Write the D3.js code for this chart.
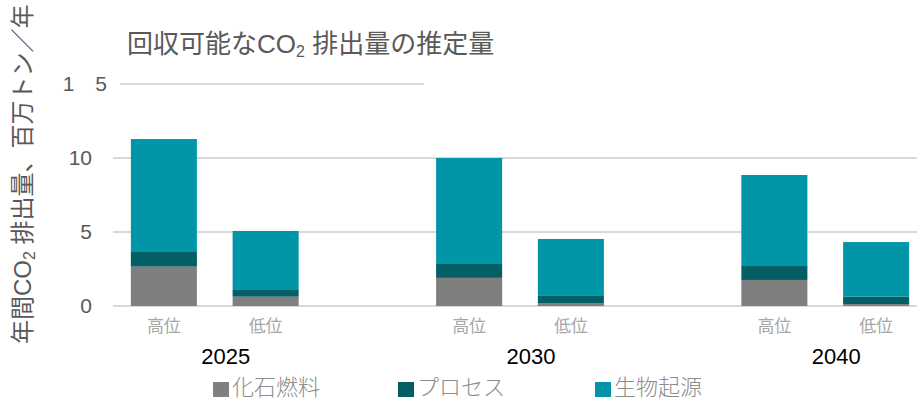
<!DOCTYPE html>
<html>
<head>
<meta charset="utf-8">
<script src="https://cdn.jsdelivr.net/npm/d3@7"></script>
<style>
  body { margin: 0; background: #fff; }
  svg { display: block; }
</style>
</head>
<body>
<div id="chart"></div>
<script>
const w = 917;
const h = 401;

// data (million t CO2 / year)
const years = ["2025", "2030", "2040"];
const scenarios = ["高位", "低位"];
const fossil  = [2.66, 0.63, 1.90, 0.20, 1.76, 0.13];
const process = [0.99, 0.45, 0.94, 0.48, 0.94, 0.50];
const bio     = [7.63, 3.99, 7.16, 3.85, 6.15, 3.69];
const seriesNames = ["化石燃料", "プロセス", "生物起源"];
const seriesColors = ["#7f7f7f", "#045e66", "#0096a8"];
const yTicks = [0, 5, 10, 15];
const yTickLabels = ["0", "5", "10", "1\u30005"];

// one row per bar, with an empty slot after each year
const rows = [];
years.forEach(function (yr, i) {
    scenarios.forEach(function (sc, j) {
        const k = i * 2 + j;
        rows.push({ key: yr + "|" + sc, year: yr, scen: sc,
            "化石燃料": fossil[k], "プロセス": process[k], "生物起源": bio[k] });
    });
});
const slots = [];
years.forEach(function (yr) {
    scenarios.forEach(function (sc) { slots.push(yr + "|" + sc); });
    slots.push(yr + "|gap");
});
slots.pop();

const x = d3.scaleBand().domain(slots).range([113, 927]).paddingInner(0.351).paddingOuter(0.1755);
const y = d3.scaleLinear().domain([0, 15]).range([306, 84]);

const svg = d3.select("#chart").append("svg").attr("width", w).attr("height", h);

// gridlines
svg.append("g").selectAll("line").data(yTicks).enter().append("line")
    .attr("x1", d => d === 15 ? 120 : 113)
    .attr("x2", d => d === 15 ? 424 : w)
    .attr("y1", d => y(d))
    .attr("y2", d => y(d))
    .attr("stroke", "#d9d9d9")
    .attr("stroke-width", 2);

// y axis labels
const yAxis = svg.append("g")
    .attr("transform", "translate(113,0)")
    .call(d3.axisLeft(y).tickValues(yTicks).tickSize(0).tickPadding(21)
        .tickFormat((d, i) => yTickLabels[i]));
yAxis.select(".domain").remove();
yAxis.selectAll("text")
    .style("font-family", "'Liberation Sans', Arial, sans-serif")
    .style("font-size", "21px")
    .attr("fill", "#595959")
    .attr("xml:space", "preserve");
yAxis.selectAll(".tick").filter(d => d === 15).select("text").attr("x", -6);

// stacked bars
const stack = d3.stack().keys(seriesNames);
const layers = stack(rows);
svg.append("g").selectAll("g").data(layers).enter().append("g")
    .attr("fill", (d, i) => seriesColors[i])
    .selectAll("rect").data(d => d).enter().append("rect")
    .attr("x", d => x(d.data.key))
    .attr("width", x.bandwidth())
    .attr("y", d => y(d[1]))
    .attr("height", d => y(d[0]) - y(d[1]));

// scenario labels
svg.append("g").selectAll("text").data(rows).enter().append("text")
    .attr("x", d => x(d.key) + x.bandwidth() / 2)
    .attr("y", 332)
    .attr("text-anchor", "middle")
    .style("font-family", "'Noto Sans CJK JP', sans-serif")
    .style("font-size", "17px")
    .attr("fill", "#a6a6a6")
    .text(d => d.scen);

// year labels
svg.append("g").selectAll("text").data(years).enter().append("text")
    .attr("x", d => (x(d + "|高位") + x(d + "|低位") + x.bandwidth()) / 2 + 11)
    .attr("y", 364)
    .attr("text-anchor", "middle")
    .style("font-family", "'Liberation Sans', Arial, sans-serif")
    .style("font-size", "22px")
    .attr("fill", "#000")
    .text(d => d);

// title
const title = svg.append("text")
    .attr("x", 127)
    .attr("y", 53)
    .style("font-family", "'Liberation Sans', 'Noto Sans CJK JP', sans-serif")
    .style("font-size", "26px")
    .attr("fill", "#595959");
title.append("tspan").text("回収可能なCO");
title.append("tspan").attr("dy", 4).style("font-size", "16px").text("2");
title.append("tspan").attr("dy", -4).text(" 排出量の推定量");

// y axis title
const yTitle = svg.append("text")
    .attr("transform", "translate(31,344)rotate(-90)")
    .style("font-family", "'Liberation Sans', 'Noto Sans CJK JP', sans-serif")
    .style("font-size", "24px")
    .attr("fill", "#595959");
yTitle.append("tspan").text("年間CO");
yTitle.append("tspan").attr("dy", 4).style("font-size", "16px").text("2");
yTitle.append("tspan").attr("dy", -4).text(" 排出量、百万トン／年");

// legend
const legendX = [213, 398, 595];
const legend = svg.append("g").selectAll("g").data(seriesNames).enter().append("g")
    .attr("transform", (d, i) => "translate(" + legendX[i] + ",382)");
legend.append("rect")
    .attr("width", 16)
    .attr("height", 15)
    .attr("fill", (d, i) => seriesColors[i]);
legend.append("text")
    .attr("x", 19)
    .attr("y", 13)
    .style("font-family", "'Noto Sans CJK JP', sans-serif")
    .style("font-size", "22px")
    .style("font-weight", 300)
    .attr("fill", "#8c8c8c")
    .text(d => d);
</script>
</body>
</html>
